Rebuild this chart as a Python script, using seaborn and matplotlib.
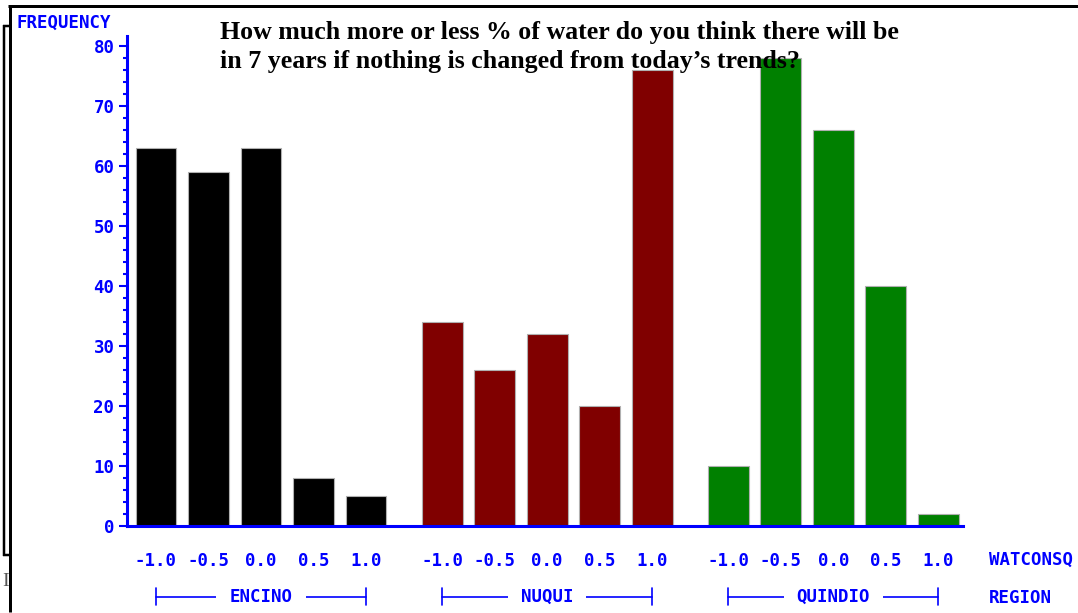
import numpy as np
import pandas as pd
import matplotlib
matplotlib.use("Agg")
import matplotlib.pyplot as plt
from matplotlib.lines import Line2D
import matplotlib.transforms as mtransforms
import seaborn as sns

# data
regions = ["ENCINO", "NUQUI", "QUINDIO"]
watconsq = ["-1.0", "-0.5", "0.0", "0.5", "1.0"]
encino_counts = [63, 59, 63, 8, 5]
nuqui_counts = [34, 26, 32, 20, 76]
quindio_counts = [10, 78, 66, 40, 2]
region_colors = ["#000000", "#800000", "#008000"]

title_lines = ["How much more or less % of water do you think there will be",
               "in 7 years if nothing is changed from today\u2019s trends?"]

W, H = 1078, 613
BLUE = "#0000ff"
MONO = "DejaVu Sans Mono"

# bar positions: unit spacing inside a group, wider gap between groups
group_step = len(watconsq) + 0.45
rows = []
for g, (reg, counts) in enumerate(zip(regions, [encino_counts, nuqui_counts, quindio_counts])):
    for i, (lvl, c) in enumerate(zip(watconsq, counts)):
        rows.append({"region": reg, "watconsq": lvl, "count": c,
                     "pos": round(g * group_step + i, 2)})
df = pd.DataFrame(rows)

sns.set_style("white")
fig = plt.figure(figsize=(W / 100, H / 100), dpi=100)


def fx(x):
    return x / W


def fy(y):
    return 1 - y / H


# axes placed by pixel box of the original
ax = fig.add_axes([fx(127), fy(526), fx(963) - fx(127), fy(36) - fy(526)])

sns.barplot(data=df, x="pos", y="count", hue="region", palette=region_colors,
            native_scale=True, dodge=False, width=0.78, saturation=1,
            edgecolor="#b0b0b0", linewidth=0.8, legend=False, ax=ax)

ax.set_xlim(-0.552, 15.37)
ax.set_ylim(0, 81.67)
ax.set_xlabel("")
ax.set_ylabel("")

for side in ["top", "right"]:
    ax.spines[side].set_visible(False)
for side in ["left", "bottom"]:
    ax.spines[side].set_color(BLUE)
    ax.spines[side].set_linewidth(2.2)

ax.set_yticks(np.arange(0, 81, 10))
ax.set_yticks(np.arange(0, 81, 2), minor=True)
ax.tick_params(axis="y", which="major", length=6, width=1.5, color=BLUE,
               labelcolor=BLUE, labelsize=12.5, pad=3, left=True)
ax.tick_params(axis="y", which="minor", length=3, width=1.5, color=BLUE, left=True)
for lab in ax.get_yticklabels():
    lab.set_fontfamily(MONO)
    lab.set_fontweight("bold")

ax.set_xticks(df["pos"], df["watconsq"])
ax.tick_params(axis="x", length=0, pad=19, labelcolor=BLUE, labelsize=12.5)
for lab in ax.get_xticklabels():
    lab.set_fontfamily(MONO)
    lab.set_fontweight("bold")

# region brackets under the tick labels
trans = mtransforms.blended_transform_factory(ax.transData, ax.transAxes)
y_mid = (526 - 597) / 490
y_lo = (526 - 605) / 490
y_hi = (526 - 588) / 490
for reg in regions:
    p = df.loc[df["region"] == reg, "pos"]
    x0, x1 = p.min(), p.max()
    ax.plot([x0, x1], [y_mid, y_mid], color=BLUE, lw=1.2, transform=trans, clip_on=False)
    for xe in (x0, x1):
        ax.plot([xe, xe], [y_lo, y_hi], color=BLUE, lw=1.2, transform=trans, clip_on=False)
    ax.text((x0 + x1) / 2, y_mid, reg, transform=trans, ha="center", va="center",
            color=BLUE, fontsize=12.5, fontweight="bold", family=MONO,
            bbox=dict(boxstyle="square,pad=0.75", fc="white", ec="none"))

fig.text(fx(16), fy(23), "FREQUENCY", color=BLUE, fontsize=12.5, fontweight="bold",
         family=MONO, va="center", ha="left")
fig.text(fx(989), fy(560), "WATCONSQ", color=BLUE, fontsize=12.5, fontweight="bold",
         family=MONO, va="center", ha="left")
fig.text(fx(989), fy(598), "REGION", color=BLUE, fontsize=12.5, fontweight="bold",
         family=MONO, va="center", ha="left")

fig.text(fx(220), fy(39), title_lines[0], fontsize=18.6, fontweight="bold",
         family="Liberation Serif", va="baseline", ha="left", color="black")
fig.text(fx(220), fy(68), title_lines[1], fontsize=18.6, fontweight="bold",
         family="Liberation Serif", va="baseline", ha="left", color="black")

# page frame fragments around the chart
frame = [
    ([8, 1078], [6, 6], 3),
    ([10, 10], [5, 612], 3),
    ([4, 4], [25, 556], 2.5),
    ([3, 10], [26, 26], 2.5),
    ([3, 10], [555, 555], 2.5),
]
for xs, ys, lw in frame:
    fig.add_artist(Line2D([fx(x) for x in xs], [fy(y) for y in ys], color="black",
                          lw=lw * 0.72, transform=fig.transFigure, solid_capstyle="butt"))
fig.text(fx(2), fy(581), "I", family="Liberation Serif", fontsize=14, color="#555555",
         va="center", ha="left")

fig.savefig("out.png", dpi=100)
